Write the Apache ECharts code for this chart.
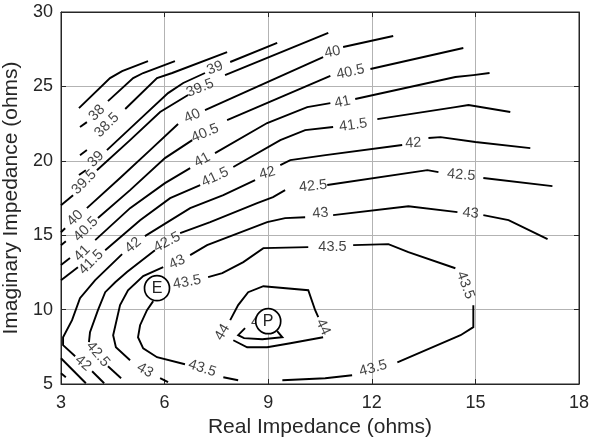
<!DOCTYPE html>
<html><head><meta charset="utf-8">
<script src="https://cdn.jsdelivr.net/npm/echarts@6/dist/echarts.min.js"></script>
<style>html,body{margin:0;padding:0;background:#fff}#c{width:590px;height:440px}</style>
</head><body><div id="c"></div>
<script>
// axis ranges [min, max, step]
const xRange = [3, 18, 3];
const yRange = [5, 30, 5];

// contour polylines (data units), each level = list of segments
const c37_5 = [[[3.52,23.54],[4.42,25.56],[4.77,26.03],[5.52,26.70]]];
const c38 = [
  [[3.55,22.27],[3.75,22.60]],
  [[4.36,24.01],[5.09,25.56],[5.38,25.90],[6.30,26.70]]
];
const c38_5 = [
  [[3.55,20.38],[3.75,20.72]],
  [[4.86,23.48],[5.78,25.56],[6.22,25.90],[7.81,27.31]]
];
const c39 = [
  [[3.52,19.04],[3.72,19.37]],
  [[4.33,20.72],[5.29,22.80],[6.10,24.55],[6.54,25.23],[7.17,25.90]],
  [[7.90,26.64],[9.26,27.92]]
];
const c39_5 = [
  [[3.00,17.02],[3.35,17.69]],
  [[4.04,19.37],[5.00,21.39],[5.87,23.28],[6.68,24.42]],
  [[7.75,25.76],[10.74,28.59]]
];
const c40 = [
  [[3.00,15.20],[3.12,15.47]],
  [[3.75,16.82],[4.71,18.84],[5.58,20.72],[6.39,22.47]],
  [[7.17,23.41],[10.59,26.97]],
  [[11.17,27.65],[12.62,28.39]]
];
const c40_5 = [
  [[3.00,14.33],[3.14,14.60]],
  [[4.07,16.15],[5.00,18.03],[6.01,20.18],[6.80,21.39]],
  [[7.81,22.74],[10.80,25.70]],
  [[11.96,26.17],[14.65,27.58]]
];
const c41 = [
  [[3.00,12.99],[3.26,13.46]],
  [[3.99,14.67],[5.00,16.82],[6.01,18.50],[6.74,19.51]],
  [[7.46,20.52],[8.97,22.54],[10.13,23.61],[10.80,23.88]],
  [[11.52,24.15],[14.42,25.63],[14.94,25.76],[15.41,25.90]],
  [[3.00,5.72],[3.14,5.45]]
];
const c41_5 = [
  [[3.00,11.98],[3.49,12.85]],
  [[4.28,13.99],[5.29,16.01],[6.16,17.49],[7.03,18.37]],
  [[7.99,19.58],[9.35,21.39],[10.07,22.06],[10.88,22.27]],
  [[12.16,22.80],[14.42,23.61],[14.80,23.75],[16.01,23.28]],
  [[3.00,6.73],[3.72,5.05]]
];
const c42 = [
  [[3.41,6.87],[3.06,7.61],[3.06,8.14],[3.32,9.29],[3.55,10.77],[3.99,11.98],[4.77,13.73]],
  [[5.43,14.94],[6.74,16.82],[7.70,17.69],[8.62,18.70]],
  [[9.35,19.71],[9.64,20.05],[10.66,20.38],[12.88,21.06]],
  [[13.64,21.53],[13.99,21.59],[15.00,21.26],[16.59,20.85]],
  [[3.90,5.86],[4.25,5.05]]
];
const c42_5 = [
  [[3.81,7.81],[3.84,8.48],[4.07,9.96],[4.28,11.17],[4.57,11.84],[4.91,12.52],[5.72,13.99]],
  [[6.45,15.14],[7.32,15.88],[8.68,17.16],[9.14,17.56],[9.49,18.03]],
  [[10.71,18.37],[13.61,19.37],[13.93,19.24]],
  [[15.23,18.84],[17.23,18.30]],
  [[4.36,6.19],[4.74,5.39]]
];
const c43 = [
  [[5.00,6.60],[4.59,7.47],[4.51,8.28],[4.71,10.30],[4.94,11.30],[5.38,12.25],[5.96,12.85]],
  [[6.74,13.66],[7.23,14.33],[8.97,15.88],[9.49,16.15],[10.07,16.21]],
  [[10.88,16.35],[13.06,16.95],[14.48,16.55]],
  [[15.23,16.35],[15.96,16.01],[17.09,14.73]],
  [[5.87,5.39],[6.10,5.12]]
];
const c43_5 = [
  [[7.26,12.18],[7.67,12.45],[8.28,13.19],[8.86,14.13],[10.16,14.20]],
  [[11.46,14.33],[12.48,14.40],[13.06,13.86],[14.42,12.78]],
  [[14.94,10.30],[14.94,8.82],[14.57,8.28],[14.42,8.14],[12.74,6.46]],
  [[11.43,5.59],[10.65,5.39],[9.41,5.25]],
  [[7.70,5.45],[8.13,5.25]],
  [[6.59,6.33],[5.78,6.80],[5.38,7.40],[5.23,8.14],[5.29,8.95],[5.49,9.96],[5.67,10.57]]
];
const c44 = [
  [[7.90,9.29],[8.13,10.30],[8.42,11.17],[8.86,11.57],[10.16,11.30],[10.36,9.96],[10.45,9.49]],
  [[10.59,8.14],[9.64,7.74],[8.97,7.47],[8.39,7.47],[7.99,7.94]]
];
const c44_5 = [
  [[8.33,8.75],[8.13,8.28],[8.30,8.08],[8.83,8.01],[9.41,8.14],[9.26,8.55]]
];

// inline contour labels: [x, y, text, angle]
const labels = [
  [4.04,23.21,'38',45],[4.33,22.40,'38.5',45],[4.01,20.11,'39',45],[3.67,18.57,'39.5',45],
  [7.46,26.23,'39',22],[7.03,24.89,'39.5',22],
  [3.41,16.15,'40',45],[3.72,15.41,'40.5',45],
  [6.80,23.01,'40',25],[10.86,27.31,'40',12],[7.17,21.86,'40.5',23],[11.38,25.97,'40.5',12],
  [3.61,13.79,'41',45],[7.09,20.05,'41',28],[11.15,23.95,'41',12],
  [3.87,13.19,'41.5',45],[7.46,18.90,'41.5',25],[11.46,22.40,'41.5',8],
  [5.09,14.33,'42',40],[8.97,19.17,'42',15],[13.20,21.19,'42',3],[3.64,6.40,'42',-40],
  [6.07,14.53,'42.5',28],[10.30,18.30,'42.5',6],[14.59,19.04,'42.5',-5],[4.07,7.00,'42.5',-50],
  [6.36,13.19,'43',25],[10.51,16.48,'43',5],[14.86,16.48,'43',-5],[5.43,5.92,'43',-30],
  [6.65,11.84,'43.5',10],[10.86,14.20,'43.5',0],[14.71,11.64,'43.5',-70],[12.04,6.06,'43.5',15],[7.09,6.06,'43.5',-18],
  [7.67,8.48,'44',60],[10.59,8.82,'44',-65],
  [8.91,9.15,'44.5',0]
];

// circled markers: [x, y, letter]
const markers = [[5.78,11.44,'E'],[9.00,9.22,'P']];

const levels = [c37_5,c38,c38_5,c39,c39_5,c40,c40_5,c41,c41_5,c42,c42_5,c43,c43_5,c44,c44_5];
const segs = [];
levels.forEach(l => l.forEach(s => segs.push({coords: s})));

const chart = echarts.init(document.getElementById('c'), null, {renderer:'canvas'});
const tickColor = '#262626';
const fontFam = '"Liberation Sans", Arial, Helvetica, sans-serif';
const baseX = {type:'value', min:xRange[0], max:xRange[1], interval:xRange[2]};
const baseY = {type:'value', min:yRange[0], max:yRange[1], interval:yRange[2]};
chart.setOption({
  animation:false,
  backgroundColor:'#fff',
  grid:{left:61, right:11, top:12, bottom:56, show:true, borderColor:tickColor, borderWidth:1,
        containLabel:false, outerBoundsMode:'none'},
  xAxis:[
    Object.assign({}, baseX, {
      position:'bottom',
      name:'Real Impedance (ohms)', nameLocation:'middle', nameGap:33,
      nameTextStyle:{fontFamily:fontFam, fontSize:21, color:tickColor},
      axisLine:{onZero:false, lineStyle:{color:tickColor}},
      axisTick:{inside:true, length:5, lineStyle:{color:tickColor}},
      axisLabel:{fontFamily:fontFam, fontSize:18, color:tickColor, margin:10},
      splitLine:{show:true, lineStyle:{color:'#b3b3b3', width:1}}
    }),
    Object.assign({}, baseX, {
      position:'top',
      axisLine:{onZero:false, lineStyle:{color:tickColor}},
      axisTick:{inside:true, length:5, lineStyle:{color:tickColor}},
      axisLabel:{show:false}, splitLine:{show:false}
    })
  ],
  yAxis:[
    Object.assign({}, baseY, {
      position:'left',
      name:'Imaginary Impedance (ohms)', nameLocation:'middle', nameGap:33,
      nameTextStyle:{fontFamily:fontFam, fontSize:21, color:tickColor},
      axisLine:{onZero:false, lineStyle:{color:tickColor}},
      axisTick:{inside:true, length:5, lineStyle:{color:tickColor}},
      axisLabel:{fontFamily:fontFam, fontSize:18, color:tickColor, margin:8},
      splitLine:{show:true, lineStyle:{color:'#b3b3b3', width:1}}
    }),
    Object.assign({}, baseY, {
      position:'right',
      axisLine:{onZero:false, lineStyle:{color:tickColor}},
      axisTick:{inside:true, length:5, lineStyle:{color:tickColor}},
      axisLabel:{show:false}, splitLine:{show:false}
    })
  ],
  series:[
    {
      type:'lines', coordinateSystem:'cartesian2d', polyline:true,
      xAxisIndex:0, yAxisIndex:0,
      lineStyle:{color:'#000', width:1.9, opacity:1},
      silent:true, z:2,
      data:segs
    },
    {
      type:'scatter', xAxisIndex:0, yAxisIndex:0, symbolSize:0, z:3, silent:true,
      data: labels.map(l => ({value:[l[0], l[1]], name:l[2],
        label:{rotate:l[3]}})),
      label:{show:true, position:'inside', formatter:'{b}', fontFamily:fontFam,
        fontSize:14.5, color:'#111', align:'center', verticalAlign:'middle'}
    },
    {
      type:'scatter', xAxisIndex:0, yAxisIndex:0, symbol:'circle', symbolSize:25, z:5, silent:true,
      itemStyle:{color:'#fff', borderColor:'#000', borderWidth:1.7, opacity:1},
      data: markers.map(m => ({value:[m[0], m[1]], name:m[2]})),
      label:{show:true, position:'inside', formatter:'{b}', fontFamily:fontFam,
        fontSize:16, color:'#222'}
    }
  ]
});
</script>
</body></html>
